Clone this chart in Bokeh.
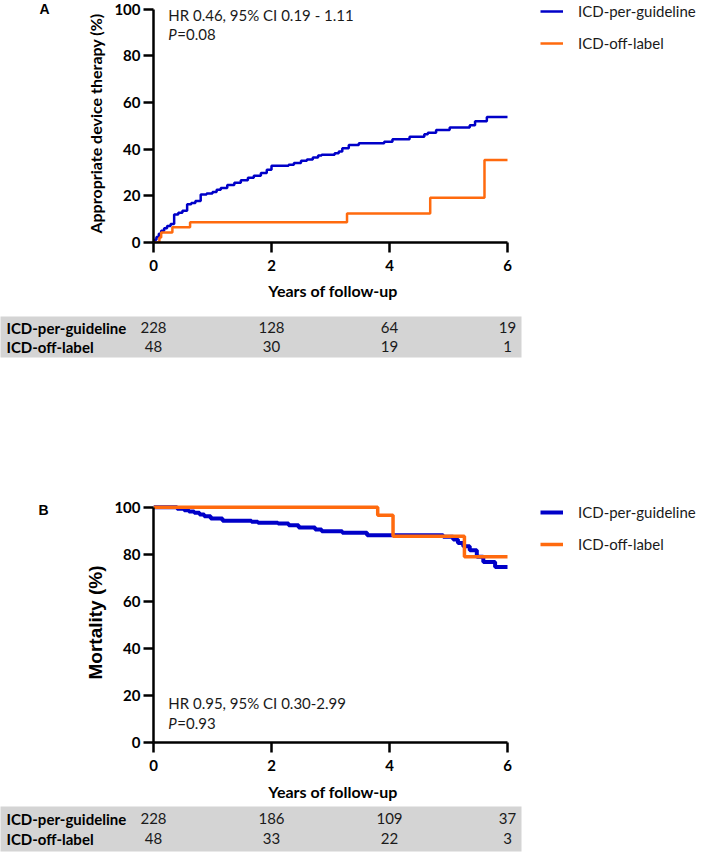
from bokeh.plotting import figure
from bokeh.models import Range1d, Label, Legend, LegendItem, FixedTicker, LinearAxis
from bokeh.layouts import column, row
from bokeh.embed import file_html
from bokeh.resources import INLINE
from bokeh.core.properties import value

BLUE = "#0000C8"
ORANGE = "#FF6A0E"
GRAY = "#d4d4d4"

# ---------------- data ----------------
series_names = ["ICD-per-guideline", "ICD-off-label"]
x_ticks = [0, 2, 4, 6]
y_ticks = [0, 20, 40, 60, 80, 100]
risk_times = [0, 2, 4, 6]

# Panel A: appropriate device therapy (cumulative %)
a_guideline_t = [0, 0.02, 0.05, 0.09, 0.13, 0.18, 0.23, 0.29, 0.35, 0.42, 0.49, 0.57, 0.64,
                 0.71, 0.80, 0.90, 1.00, 1.07, 1.14, 1.25, 1.37, 1.48, 1.60, 1.70, 1.82,
                 1.92, 2.00, 2.29, 2.38, 2.50, 2.60, 2.70, 2.79, 2.85, 3.07, 3.14, 3.20,
                 3.31, 3.48, 3.91, 4.05, 4.34, 4.59, 4.65, 4.79, 5.02, 5.36, 5.45, 5.65, 6.0]
a_guideline_v = [0, 1.2, 2.4, 3.7, 5.0, 6.1, 7.1, 7.9, 12.0, 12.8, 13.6, 16.4, 16.9,
                 17.8, 20.6, 21.0, 21.6, 22.6, 23.4, 24.6, 25.6, 26.7, 27.7, 28.6, 29.8,
                 31.2, 32.9, 33.3, 34.1, 35.0, 35.6, 36.4, 37.3, 37.6, 38.3, 39.0, 40.4,
                 41.8, 42.5, 43.2, 44.2, 45.3, 46.4, 47.0, 48.2, 49.3, 50.3, 52.0, 53.8, 53.8]
a_offlabel_t = [0, 0.10, 0.13, 0.32, 0.62, 3.28, 4.69, 5.61, 6.0]
a_offlabel_v = [0, 2.1, 4.3, 6.5, 8.7, 12.4, 19.2, 35.4, 35.4]

# Panel B: mortality (survival %)
b_guideline_t = [0, 0.40, 0.52, 0.60, 0.69, 0.78, 0.86, 0.97, 1.17, 1.66, 1.77, 2.11, 2.29,
                 2.46, 2.74, 2.85, 3.20, 3.62, 4.91, 5.08, 5.16, 5.25, 5.36, 5.48, 5.59,
                 5.79, 6.0]
b_guideline_v = [100, 99.3, 98.7, 98.2, 97.6, 96.9, 96.2, 95.2, 94.2, 93.8, 93.4, 93.1, 92.3,
                 91.4, 90.5, 89.8, 89.1, 88.1, 87.4, 86.3, 84.8, 83.4, 81.7, 78.9, 76.7,
                 74.6, 74.6]
b_offlabel_t = [0, 3.80, 4.06, 5.27, 6.0]
b_offlabel_v = [100, 96.6, 87.7, 78.9, 78.9]

# Number at risk
a_risk_guideline = [228, 128, 64, 19]
a_risk_offlabel = [48, 30, 19, 1]
b_risk_guideline = [228, 186, 109, 37]
b_risk_offlabel = [48, 33, 22, 3]

a_stats = ["HR 0.46, 95% CI 0.19 - 1.11", "=0.08"]
b_stats = ["HR 0.95, 95% CI 0.30-2.99", "=0.93"]

# ---------------- layout constants ----------------
W = 709
LEFT = 153
PX_PER_YEAR = 59.0
FRAME_W = 359
PLOT_W = LEFT + FRAME_W
LEG_W = W - PLOT_W
X_END = FRAME_W / PX_PER_YEAR
FONT = "Lato"


def km_panel(letter, letter_at, ylabel, ylabel_font, ylabel_size, ylabel_standoff, curves,
             stats, stats_y, frame_h, top, bottom, legend_bottom, x_title_standoff):
    H = top + frame_h + bottom
    p = figure(width=PLOT_W, height=H, output_backend="svg",
               toolbar_location=None,
               x_range=Range1d(0, X_END), y_range=Range1d(0, 102),
               min_border_left=LEFT, min_border_right=0,
               min_border_top=top, min_border_bottom=bottom)
    p.frame_align = False
    p.grid.visible = False
    p.outline_line_color = None
    p.background_fill_color = "white"
    p.border_fill_color = "white"

    for ax in (p.xaxis[0], p.yaxis[0]):
        ax.axis_line_width = 2.5
        ax.axis_line_color = "black"
        ax.major_tick_line_width = 2.5
        ax.major_tick_line_color = "black"
        ax.major_tick_out = 10
        ax.major_tick_in = 0
        ax.minor_tick_line_color = None
        ax.major_label_text_font = FONT
        ax.major_label_text_font_style = "bold"
        ax.major_label_text_font_size = "15px"
        ax.major_label_text_color = "black"
        ax.axis_label_text_color = "black"
        ax.axis_label_text_font_style = "bold"
    p.xaxis.ticker = FixedTicker(ticks=x_ticks)
    p.yaxis.ticker = FixedTicker(ticks=y_ticks)
    p.xaxis.bounds = (0, 6)
    p.yaxis.bounds = (0, 100)
    p.xaxis.major_label_standoff = 7
    p.yaxis.major_label_standoff = 3
    p.xaxis.axis_label = "Years of follow-up"
    p.xaxis.axis_label_text_font = FONT
    p.xaxis.axis_label_text_font_size = "16px"
    p.xaxis.axis_label_standoff = x_title_standoff
    p.yaxis.axis_label = ylabel
    p.yaxis.axis_label_text_font = ylabel_font
    p.yaxis.axis_label_text_font_size = ylabel_size
    p.yaxis.axis_label_standoff = ylabel_standoff

    # panel letter as the tick label of an extra, line-less left axis
    lax = LinearAxis(ticker=FixedTicker(ticks=[letter_at]),
                     major_label_overrides={letter_at: letter},
                     axis_line_color=None, major_tick_line_color=None,
                     minor_tick_line_color=None, major_tick_out=0, major_tick_in=0,
                     major_label_standoff=34,
                     major_label_text_font="Liberation Sans",
                     major_label_text_font_style="bold",
                     major_label_text_font_size="14px",
                     major_label_text_color="black")
    p.add_layout(lax, "left")

    for t, v, color, width in curves:
        p.step(t, v, mode="after", line_color=color, line_width=width)

    p.add_layout(Label(x=0.25, y=stats_y[0], text=stats[0], text_font=FONT,
                       text_font_size="15px", text_baseline="middle", text_color="#1a1a1a"))
    p.add_layout(Label(x=0.25, y=stats_y[1], text="P", text_font=FONT,
                       text_font_style="italic",
                       text_font_size="15px", text_baseline="middle", text_color="#1a1a1a"))
    p.add_layout(Label(x=0.25, y=stats_y[1], x_offset=9, text=stats[1], text_font=FONT,
                       text_font_size="15px", text_baseline="middle", text_color="#1a1a1a"))

    # legend lives in a companion figure on the right; its proxy lines carry the
    # series data on an off-screen range so only the legend swatches show
    lf = figure(width=LEG_W, height=H, output_backend="svg", toolbar_location=None,
                x_range=Range1d(0, LEG_W), y_range=Range1d(0, H),
                x_axis_location=None, y_axis_location=None,
                min_border_left=0, min_border_right=0, min_border_top=0, min_border_bottom=0)
    lf.extra_x_ranges = {"hidden": Range1d(1000, 1001)}
    lf.frame_align = False
    lf.grid.visible = False
    lf.outline_line_color = None
    items = []
    for (t, v, color, width), name in zip(curves, series_names):
        r = lf.line(t, v, line_color=color, line_width=width, x_range_name="hidden")
        items.append(LegendItem(label=name, renderers=[r]))
    leg = Legend(items=items, location=(28, H - legend_bottom))
    leg.glyph_width = 23
    leg.glyph_height = 20
    leg.label_height = 20
    leg.spacing = 12
    leg.padding = 0
    leg.margin = 0
    leg.label_standoff = 15
    leg.border_line_color = None
    leg.background_fill_alpha = 0
    leg.label_text_font = FONT
    leg.label_text_font_size = "15px"
    leg.label_text_color = "#1a1a1a"
    lf.add_layout(leg)
    return row(p, lf, spacing=0)


def risk_table(guideline, offlabel, top, frame_h, bottom, row_offsets):
    frame_w = 521
    x_start = -LEFT / PX_PER_YEAR
    x_stop = (frame_w - LEFT) / PX_PER_YEAR
    t = figure(width=W, height=top + frame_h + bottom, output_backend="svg",
               toolbar_location=None,
               x_range=Range1d(x_start, x_stop), y_range=Range1d(0, frame_h),
               x_axis_location=None, y_axis_location=None,
               min_border_left=0, min_border_right=W - frame_w,
               min_border_top=top, min_border_bottom=bottom)
    t.frame_align = False
    t.grid.visible = False
    t.outline_line_color = None
    t.background_fill_color = GRAY
    t.border_fill_color = "white"
    ys = [frame_h - row_offsets[0], frame_h - row_offsets[1]]
    for y, vals, name in zip(ys, (guideline, offlabel), series_names):
        t.text(x=risk_times, y=[y] * len(risk_times), text=[str(v) for v in vals],
               text_align="center", text_baseline="middle",
               text_font=value(FONT), text_font_size="15px", text_color="#1a1a1a")
        t.text(x=[x_start + 6 / PX_PER_YEAR], y=[y], text=[name],
               text_align="left", text_baseline="middle",
               text_font=value(FONT), text_font_style="bold",
               text_font_size="15px", text_color="black")
    return t


pA = km_panel("A", 100, "Appropriate device therapy (%)", FONT, "16px", 6,
              [(a_guideline_t, a_guideline_v, BLUE, 2.5),
               (a_offlabel_t, a_offlabel_v, ORANGE, 2.5)],
              a_stats, (97.3, 89.2), 238, 4, 66, 53, 7)
tA = risk_table(a_risk_guideline, a_risk_offlabel, 8, 41, 3, (11, 30))

pB = km_panel("B", 99, "Mortality (%)", "Liberation Sans", "19px", 5,
              [(b_guideline_t, b_guideline_v, BLUE, 4),
               (b_offlabel_t, b_offlabel_v, ORANGE, 3.5)],
              b_stats, (16.6, 8.5), 240, 142, 62, 194, 8)
tB = risk_table(b_risk_guideline, b_risk_offlabel, 2, 45, 6, (12, 32))

layout = column(pA, tA, pB, tB, spacing=0)

open("out.html", "w").write(file_html(layout, INLINE))
